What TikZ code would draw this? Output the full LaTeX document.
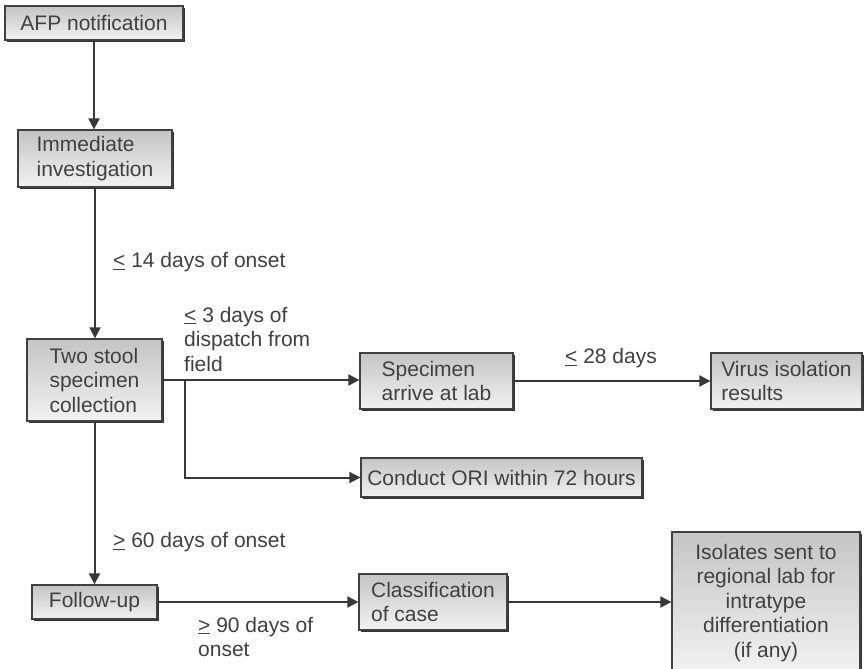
\documentclass[tikz,border=0pt]{standalone}
\usepackage{fontspec}
\setmainfont{Liberation Sans}
\usetikzlibrary{arrows.meta,shadows}
\definecolor{txtgray}{HTML}{404040}
\definecolor{linegray}{HTML}{383838}
\definecolor{boxtop}{HTML}{C4C4C4}
\definecolor{boxbot}{HTML}{F2F2F2}
\newcommand\lsym{\underline{<}}
\newcommand\gsym{\underline{>}}
\begin{document}
\begin{tikzpicture}[x=1pt,y=-1pt,
  every node/.style={text=txtgray, font=\fontsize{21}{24.5}\selectfont},
  stepbox/.style={draw=black!75, line width=1.3pt, top color=boxtop, bottom color=boxbot,
    drop shadow={shadow xshift=1.6pt, shadow yshift=-1.6pt, fill=black!80, opacity=1},
    align=left, inner sep=0pt},
  lbl/.style={anchor=west, align=left, inner sep=0pt},
  arr/.style={draw=linegray, line width=2pt, -{Triangle[length=11pt,width=11pt]}},
  ln/.style={draw=linegray, line width=2pt}]
\clip (0,0) rectangle (865,669);
\fill[white] (0,0) rectangle (865,669);

% boxes
\node[stepbox, minimum width=178pt, minimum height=34pt] (afp) at (94,23) {AFP notification};
\node[stepbox, minimum width=154pt, minimum height=57pt] (imm) at (95,158.5) {Immediate\\investigation};
\node[stepbox, minimum width=135pt, minimum height=82pt] (stool) at (94.5,380) {Two stool\\specimen\\collection};
\node[stepbox, minimum width=153pt, minimum height=56pt] (spec) at (436.5,381) {Specimen\\arrive at lab};
\node[stepbox, minimum width=151pt, minimum height=56pt] (virus) at (786.5,381) {Virus isolation\\results};
\node[stepbox, minimum width=281pt, minimum height=39pt] (ori) at (501.5,477.5) {Conduct ORI within 72 hours};
\node[stepbox, minimum width=125pt, minimum height=34pt] (follow) at (94.5,602) {Follow-up};
\node[stepbox, minimum width=148pt, minimum height=56pt] (class) at (433,602) {Classification\\of case};
\node[stepbox, align=center, minimum width=188pt, minimum height=142pt] (isol) at (766,603)
  {Isolates sent to\\regional lab for\\intratype\\differentiation\\(if any)};

% labels
\node[lbl] (l14) at (113,262) {\lsym\ 14 days of onset};
\node[lbl] (l3) at (184,339) {\lsym\ 3 days of\\dispatch from\\field};
\node[lbl] (l28) at (565,358) {\lsym\ 28 days};
\node[lbl] (l60) at (113,542) {\gsym\ 60 days of onset};
\node[lbl] (l90) at (198,637) {\gsym\ 90 days of\\onset};

% connectors
\coordinate (br) at (185,380);
\draw[arr] (afp.south) -- (afp.south |- imm.north);
\draw[arr] (imm.south) -- (imm.south |- stool.north);
\draw[arr] (stool.east) -- (stool.east -| spec.west);
\draw[arr] (br) |- (ori.west);
\draw[arr] (spec.east) -- (spec.east -| virus.west);
\draw[arr] (stool.south) -- (stool.south |- follow.north);
\draw[arr] (follow.east) -- (follow.east -| class.west);
\draw[arr] (class.east) -- (class.east -| isol.west);
\end{tikzpicture}
\end{document}
